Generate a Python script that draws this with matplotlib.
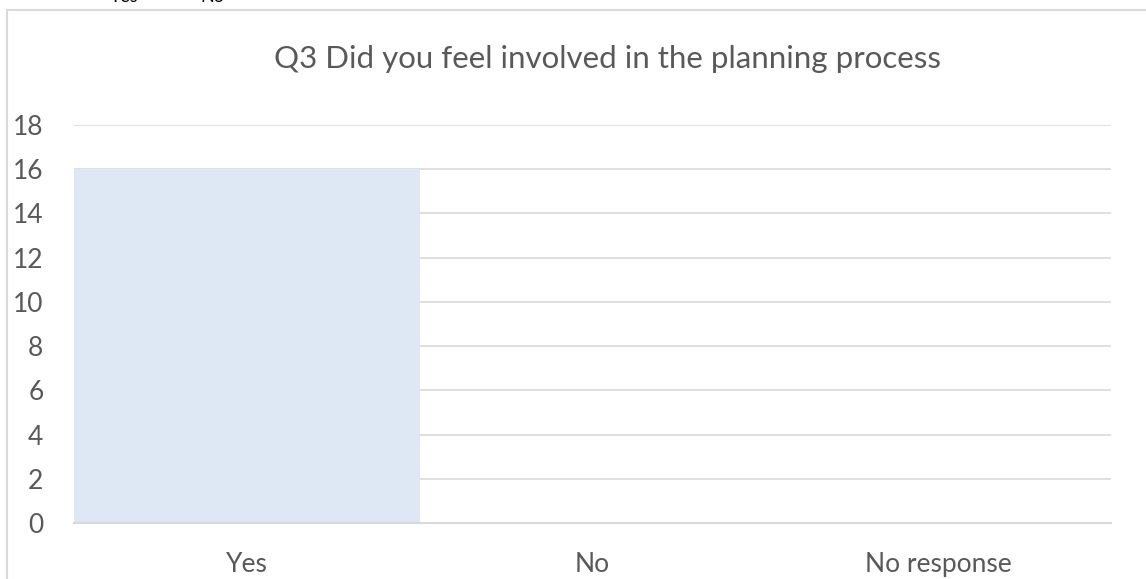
import matplotlib
matplotlib.use('Agg')
import matplotlib.pyplot as plt
from matplotlib.patches import Rectangle

# chart data
categories = ['Yes', 'No', 'No response']
counts = [16, 0, 0]
y_ticks = [0, 2, 4, 6, 8, 10, 12, 14, 16, 18]
title = 'Q3 Did you feel involved in the planning process'
# legend of the chart above, cut off by the crop
top_labels = ['Yes', 'No']

plt.rcParams['font.family'] = ['Lato', 'DejaVu Sans']

W, H = 1146, 579
fig = plt.figure(figsize=(W / 100, H / 100), dpi=100)

# chart frame (extends past right and bottom edge)
fig.patches.append(Rectangle((7 / W, -0.1), 1.2, 1 - 10 / H + 0.1,
                             transform=fig.transFigure, fill=False,
                             edgecolor='#d9d9d9', linewidth=1.5))

ax = fig.add_axes([74 / W, 1 - 523 / H, (1111 - 74) / W, (523 - 125) / H])
x = list(range(len(categories)))
ax.bar(x, counts, width=1.0, color='#dde8f4', zorder=2)
ax.set_xlim(-0.5, len(categories) - 0.5)
ax.set_ylim(0, 18)
ax.set_yticks(y_ticks)
ax.set_yticklabels([str(v) for v in y_ticks], fontsize=19, color='#595959')
ax.set_xticks(x)
ax.set_xticklabels(categories, fontsize=19, color='#595959')
ax.tick_params(axis='both', length=0)
ax.tick_params(axis='y', pad=22)
ax.tick_params(axis='x', pad=21)
ax.grid(axis='y', color='#d9d9d9', linewidth=1.2, zorder=0)
for s in ['top', 'right', 'left']:
    ax.spines[s].set_visible(False)
ax.spines['bottom'].set_color('#d9d9d9')
ax.spines['bottom'].set_linewidth(1.5)
ax.spines['bottom'].set_zorder(3)

fig.text(608 / W, 1 - 59 / H, title, ha='center', va='center',
         fontsize=22.5, color='#595959')

# clipped legend text at the very top
fig.text(110 / W, 1 + 3 / H, top_labels[0], ha='left', va='center',
         fontsize=13, color='black')
fig.text(200 / W, 1 + 3 / H, top_labels[1], ha='left', va='center',
         fontsize=13, color='black')

fig.savefig('out.png', dpi=100, facecolor='white')
